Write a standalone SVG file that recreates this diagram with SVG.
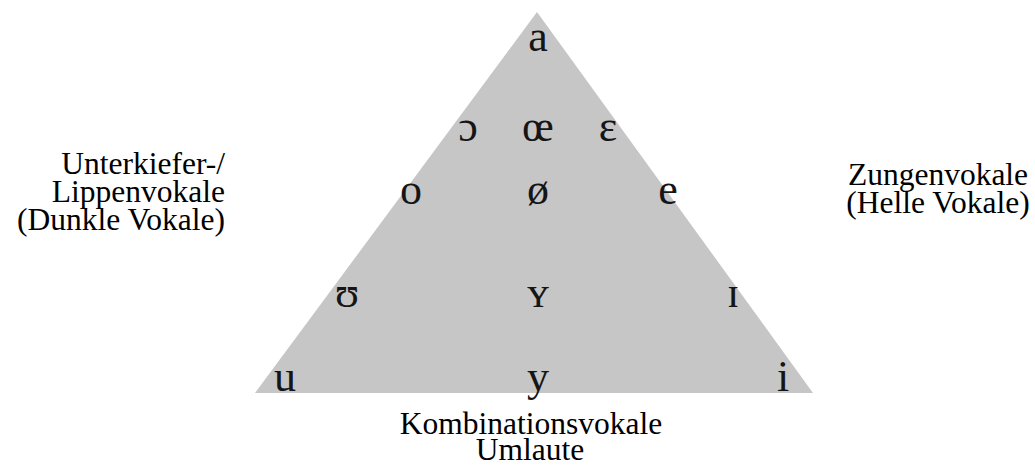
<svg xmlns="http://www.w3.org/2000/svg" width="1035" height="465" viewBox="0 0 1035 465">
<style>
.v{font-family:"Liberation Serif","DejaVu Serif",serif;font-size:44px;fill:#151515;text-anchor:middle}
.l{font-family:"Liberation Serif","DejaVu Serif",serif;font-size:31.5px;fill:#000}
</style>
<rect width="1035" height="465" fill="#fff"/>
<g id="triangle"><polygon points="537,12 255,393 813,393" fill="#c6c6c6"/></g>
<g id="vowels">
<text class="v" x="538" y="51">a</text>
<text class="v" x="468" y="141">ɔ</text>
<text class="v" x="538" y="141">œ</text>
<text class="v" x="608" y="141">ɛ</text>
<text class="v" x="411" y="204">o</text>
<text class="v" x="538" y="204">ø</text>
<text class="v" x="668" y="204">e</text>
<text class="v" x="347" y="307">ʊ</text>
<text class="v" x="538" y="307">ʏ</text>
<text class="v" x="733" y="307">ɪ</text>
<text class="v" x="285" y="391">u</text>
<text class="v" x="538" y="391">y</text>
<text class="v" x="783" y="391">i</text>
</g>
<g id="label-left">
<text class="l" x="225" y="174" text-anchor="end">Unterkiefer-/</text>
<text class="l" x="225" y="202" text-anchor="end">Lippenvokale</text>
<text class="l" x="225" y="230" text-anchor="end">(Dunkle Vokale)</text>
</g>
<g id="label-right">
<text class="l" x="938" y="185" text-anchor="middle">Zungenvokale</text>
<text class="l" x="938" y="213" text-anchor="middle">(Helle Vokale)</text>
</g>
<g id="label-bottom">
<text class="l" x="531" y="434" text-anchor="middle">Kombinationsvokale</text>
<text class="l" x="530" y="460" text-anchor="middle">Umlaute</text>
</g>
<g id="connectors"/>
</svg>
